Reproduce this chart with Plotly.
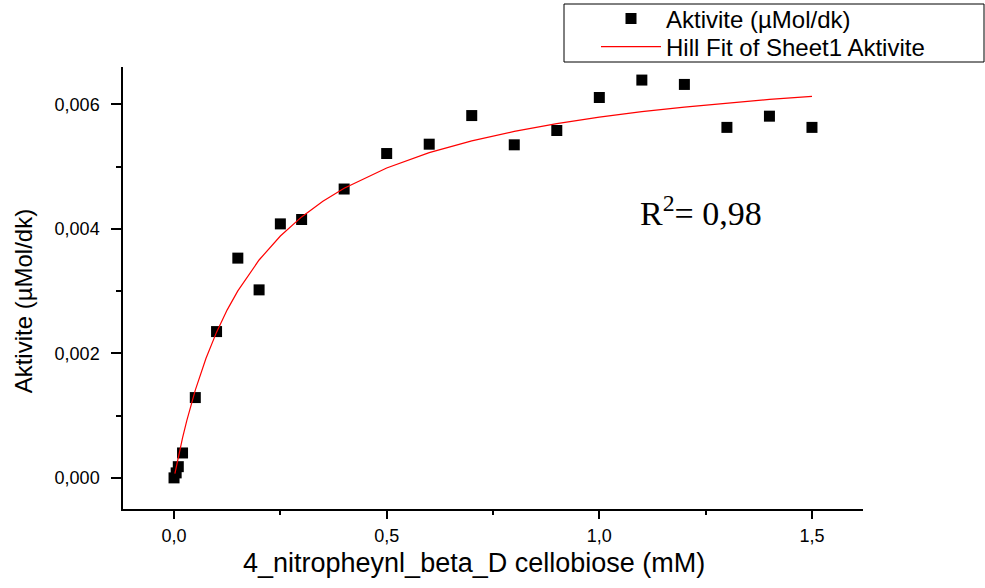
import plotly.graph_objects as go

conc_mM = [0, 0.005, 0.01, 0.02, 0.05, 0.1, 0.15, 0.2, 0.25, 0.3, 0.4, 0.5,
           0.6, 0.7, 0.8, 0.9, 1.0, 1.1, 1.2, 1.3, 1.4, 1.5]
activity = [0.0, 0.00008, 0.00018, 0.0004, 0.00129, 0.00235, 0.00353, 0.00302,
            0.00408, 0.00415, 0.00464, 0.00521, 0.00536, 0.00582, 0.00535,
            0.00558, 0.00611, 0.00639, 0.00632, 0.00563, 0.00581, 0.00563]

# Hill fit curve
fit_x = [0.002, 0.005, 0.01, 0.02, 0.03, 0.04, 0.05, 0.075, 0.1, 0.125, 0.15,
         0.2, 0.25, 0.3, 0.35, 0.4, 0.5, 0.6, 0.7, 0.8, 0.9, 1.0, 1.1, 1.2,
         1.3, 1.4, 1.5]
fit_y = [0.00007, 0.000172, 0.000336, 0.000642, 0.00092, 0.001175, 0.001409,
         0.001918, 0.002341, 0.002699, 0.003004, 0.0035, 0.003885, 0.004192,
         0.004442, 0.004651, 0.004978, 0.005224, 0.005414, 0.005566, 0.005691,
         0.005794, 0.005882, 0.005957, 0.006022, 0.006079, 0.006129]

x_ticks = [0.0, 0.5, 1.0, 1.5]
y_ticks = [0.0, 0.002, 0.004, 0.006]

FONT = "Liberation Sans, Arial, sans-serif"

fig = go.Figure()
fig.add_trace(go.Scatter(
    x=conc_mM, y=activity, mode="markers", name="Aktivite (µMol/dk)",
    marker=dict(symbol="square", size=11, color="black",
                line=dict(width=0)),
    legend="legend",
))
fig.add_trace(go.Scatter(
    x=fit_x, y=fit_y, mode="lines", name="Hill Fit of Sheet1 Aktivite",
    line=dict(color="#ff0000", width=1.2),
    legend="legend2",
))

axis_common = dict(
    showline=True, linecolor="black", linewidth=1.5, mirror=False,
    showgrid=False, zeroline=False, ticks="outside", tickcolor="black",
    tickwidth=1.5, tickfont=dict(family=FONT, size=18, color="black"),
)

fig.update_xaxes(
    range=[-0.12, 1.62], tickvals=x_ticks, tickformat=".1f", ticklen=8,
    ticklabelstandoff=2,
    minor=dict(ticks="outside", tickvals=[0.25, 0.75, 1.25], ticklen=4,
               tickcolor="black", tickwidth=1.5),
    **axis_common,
)
fig.update_yaxes(
    range=[-0.0005, 0.0066], tickvals=y_ticks, tickformat=".3f", ticklen=10,
    ticklabelstandoff=8,
    minor=dict(ticks="outside", tickvals=[0.001, 0.003, 0.005], ticklen=5,
               tickcolor="black", tickwidth=1.5),
    **axis_common,
)

fig.add_annotation(
    xref="paper", yref="paper", x=0.474, y=-0.122, yanchor="middle",
    text="4_nitropheynl_beta_D cellobiose (mM)", showarrow=False,
    font=dict(family=FONT, size=27, color="black"),
)
fig.add_annotation(
    xref="paper", yref="paper", x=-0.135, y=0.47, textangle=-90,
    xanchor="center", yanchor="middle",
    text="Aktivite (µMol/dk)", showarrow=False,
    font=dict(family=FONT, size=24, color="black"),
)
fig.add_annotation(
    xref="x", yref="y", x=1.09, y=0.00428, xanchor="left", yanchor="middle",
    text="R<sup>2</sup>= 0,98", showarrow=False,
    font=dict(family="Liberation Serif, Times New Roman, serif", size=34,
              color="black"),
)

# legend frame (box extends to the right edge of the image)
fig.add_shape(
    type="rect", xref="paper", yref="paper",
    x0=(564 - 123) / 740, x1=(984 - 123) / 740,
    y0=(509 - 62) / 442, y1=(509 - 4) / 442,
    line=dict(color="black", width=1), fillcolor="white", layer="below",
)

legend_common = dict(
    xref="container", yref="container", x=596 / 985,
    xanchor="left", yanchor="middle", bgcolor="rgba(0,0,0,0)",
    borderwidth=0, itemwidth=60,
    font=dict(family=FONT, size=24, color="black"),
)

fig.update_layout(
    width=985, height=588, separators=",.",
    paper_bgcolor="white", plot_bgcolor="white",
    margin=dict(l=123, r=122, t=67, b=79, autoexpand=False),
    showlegend=True,
    legend=dict(y=1 - 19 / 588, **legend_common),
    legend2=dict(y=1 - 47 / 588, **legend_common),
)

fig.write_html("out.html")
